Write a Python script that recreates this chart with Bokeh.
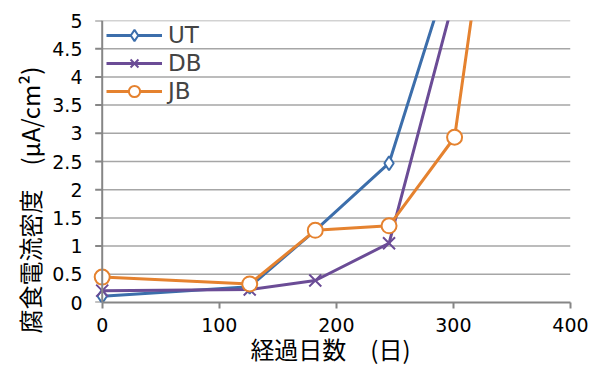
from bokeh.plotting import figure
from bokeh.models import Range1d, FixedTicker, Legend, LegendItem, Span, Title
from bokeh.embed import file_html
from bokeh.resources import INLINE

# ---- data ----
days_ut = [0, 126, 182, 245, 300]
ut = [0.11, 0.28, 1.28, 2.47, 6.1]
days_db = [0, 126, 182, 245, 300]
db = [0.21, 0.23, 0.39, 1.05, 5.36]
days_jb = [0, 126, 182, 245, 301, 330]
jb = [0.45, 0.33, 1.28, 1.36, 2.93, 7.2]
series_names = ["UT", "DB", "JB"]
x_ticks = [0, 100, 200, 300, 400]
y_ticks = [0, 0.5, 1, 1.5, 2, 2.5, 3, 3.5, 4, 4.5, 5]
y_tick_labels = ["0", "0.5", "1", "1.5", "2", "2.5", "3", "3.5", "4", "4.5", "5"]
x_title = "経過日数　(日)"
y_title = "腐食電流密度　(μA/cm²)"

BLUE = "#3C6EAB"
PURPLE = "#6B4C96"
ORANGE = "#E5822F"
AXIS = "#868686"
GRID = "#A6A6A6"
TICK_FONT = "DejaVu Sans"
CJK_FONT = "Noto Sans CJK JP"

p = figure(width=600, height=368, x_range=Range1d(-10, 400), y_range=Range1d(0, 5),
           output_backend="svg", toolbar_location=None,
           min_border_left=90, min_border_right=30, min_border_top=20, min_border_bottom=66)
p.outline_line_color = None
p.background_fill_color = "white"
p.border_fill_color = "white"
p.xgrid.visible = False
p.ygrid.visible = False

# horizontal gridlines from x=0 to x=400
gy = y_ticks[1:]
p.segment(x0=[x_ticks[0]] * len(gy), x1=[x_ticks[-1]] * len(gy), y0=gy, y1=gy,
          line_color=GRID, line_width=1.5)
# y axis line at x = 0 and its tick marks
p.add_layout(Span(location=x_ticks[0], dimension="height", line_color=AXIS, line_width=2))
p.segment(x0=[x_ticks[0] - 6] * len(y_ticks), x1=[x_ticks[0]] * len(y_ticks),
          y0=y_ticks, y1=y_ticks, line_color=AXIS, line_width=2)

# x axis
xa = p.xaxis[0]
xa.axis_line_color = AXIS
xa.axis_line_width = 2
xa.major_tick_line_color = AXIS
xa.major_tick_line_width = 2
xa.major_tick_in = 0
xa.major_tick_out = 6
xa.minor_tick_line_color = None
xa.ticker = FixedTicker(ticks=x_ticks)
xa.bounds = (x_ticks[0], x_ticks[-1])
xa.major_label_text_font = TICK_FONT
xa.major_label_text_font_size = "19px"
xa.major_label_text_color = "black"
xa.major_label_standoff = 9
xa.axis_label = x_title
xa.axis_label_text_font = CJK_FONT
xa.axis_label_text_font_size = "24px"
xa.axis_label_text_font_style = "normal"
xa.axis_label_text_color = "black"
xa.axis_label_standoff = -4

# y axis (labels only; line and ticks drawn at x = 0 above)
ya = p.yaxis[0]
ya.axis_line_color = None
ya.major_tick_line_color = None
ya.minor_tick_line_color = None
ya.major_tick_in = 0
ya.major_tick_out = 0
ya.ticker = FixedTicker(ticks=y_ticks)
ya.major_label_overrides = {t: s for t, s in zip(y_ticks, y_tick_labels)}
ya.major_label_text_font = TICK_FONT
ya.major_label_text_font_size = "19px"
ya.major_label_text_color = "black"
ya.major_label_standoff = 8

# y title as a side title, anchored at the bottom and shifted down
p.add_layout(Title(text=y_title, align="left", offset=-31, standoff=6,
                   text_font=CJK_FONT, text_font_size="24px",
                   text_font_style="normal", text_color="black"), "left")

# series
ut_l = p.line(days_ut, ut, line_color=BLUE, line_width=3)
ut_m = p.scatter(days_ut, ut, marker="diamond", size=14,
                 line_color=BLUE, line_width=2, fill_color="white")
db_l = p.line(days_db, db, line_color=PURPLE, line_width=3)
db_m = p.scatter(days_db, db, marker="x", size=17, line_color=PURPLE, line_width=2)
jb_l = p.line(days_jb, jb, line_color=ORANGE, line_width=3)
jb_m = p.scatter(days_jb, jb, marker="circle", size=15,
                 line_color=ORANGE, line_width=2, fill_color="white")

legend = Legend(items=[
    LegendItem(label=series_names[0], renderers=[ut_l, ut_m]),
    LegendItem(label=series_names[1], renderers=[db_l, db_m]),
    LegendItem(label=series_names[2], renderers=[jb_l, jb_m]),
], location=(16, 197))
legend.background_fill_alpha = 0
legend.border_line_color = None
legend.label_text_font = TICK_FONT
legend.label_text_font_size = "23px"
legend.glyph_width = 56
legend.glyph_height = 28
legend.label_height = 24
legend.spacing = 0
legend.padding = 4
legend.margin = 0
legend.label_standoff = 6
p.add_layout(legend)

open("out.html", "w").write(file_html(p, INLINE))
